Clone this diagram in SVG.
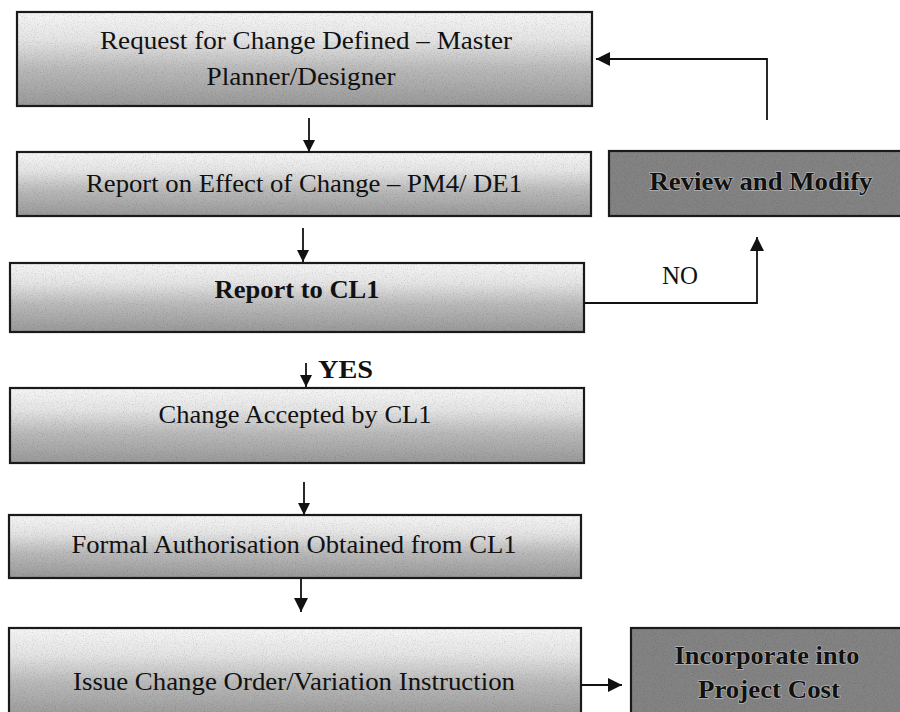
<svg xmlns="http://www.w3.org/2000/svg" width="900" height="712" viewBox="0 0 900 712">
<defs>
<linearGradient id="lightGrad" x1="0" y1="0" x2="0" y2="1">
<stop offset="0" stop-color="#f6f6f6"/>
<stop offset="0.3" stop-color="#e4e4e4"/>
<stop offset="0.6" stop-color="#bababa"/>
<stop offset="1" stop-color="#999999"/>
</linearGradient>
<filter id="grain" x="0" y="0" width="100%" height="100%">
<feTurbulence type="fractalNoise" baseFrequency="0.9" numOctaves="2" seed="4" result="n"/>
<feColorMatrix in="n" type="matrix" values="0 0 0 0 0  0 0 0 0 0  0 0 0 0 0  0 0 0 -1.6 0.85" result="spots"/>
<feComposite in="spots" in2="SourceGraphic" operator="in" result="clip"/>
<feComponentTransfer in="clip" result="soft"><feFuncA type="linear" slope="0.4"/></feComponentTransfer>
<feMerge><feMergeNode in="SourceGraphic"/><feMergeNode in="soft"/></feMerge>
</filter>
<marker id="head" viewBox="0 0 10 10" refX="10" refY="5" markerWidth="13" markerHeight="12" markerUnits="userSpaceOnUse" orient="auto">
<path d="M0,0 L10,5 L0,10 Z" fill="#111"/>
</marker>
<marker id="headBig" viewBox="0 0 10 10" refX="10" refY="5" markerWidth="15" markerHeight="14" markerUnits="userSpaceOnUse" orient="auto">
<path d="M0,0 L10,5 L0,10 Z" fill="#111"/>
</marker>
</defs>
<style>
.light{fill:url(#lightGrad);filter:url(#grain)}
.dark{fill:#838383;filter:url(#grain)}
.edge{fill:none;stroke:#1a1a1a;stroke-width:2.2}
.t{font-family:"Liberation Serif","Times New Roman",serif;font-size:26px;fill:#111;text-anchor:middle}
.b{font-weight:bold}
.halo{paint-order:stroke;stroke:#d8d8d8;stroke-width:1.5;stroke-opacity:0.6}
.conn{fill:none;stroke:#111;stroke-width:1.8}
</style>
<rect width="900" height="712" fill="#ffffff"/>

<g id="n1">
<rect class="light" x="17" y="12" width="575" height="94"/>
<rect class="edge" x="17" y="12" width="575" height="94"/>
<text class="t" x="306" y="49" textLength="412" lengthAdjust="spacingAndGlyphs">Request for Change Defined – Master</text>
<text class="t" x="301" y="85" textLength="189" lengthAdjust="spacingAndGlyphs">Planner/Designer</text>
</g>

<g id="n2">
<rect class="light" x="17" y="152" width="574" height="64"/>
<rect class="edge" x="17" y="152" width="574" height="64"/>
<text class="t" x="304" y="192" textLength="436" lengthAdjust="spacingAndGlyphs">Report on Effect of Change – PM4/ DE1</text>
</g>

<g id="n3">
<rect class="light" x="10" y="263" width="574" height="69"/>
<rect class="edge" x="10" y="263" width="574" height="69"/>
<text class="t b" x="297" y="298" textLength="165" lengthAdjust="spacingAndGlyphs">Report to CL1</text>
</g>

<g id="n4">
<rect class="light" x="10" y="388" width="574" height="75"/>
<rect class="edge" x="10" y="388" width="574" height="75"/>
<text class="t" x="295" y="423" textLength="273" lengthAdjust="spacingAndGlyphs">Change Accepted by CL1</text>
</g>

<g id="n5">
<rect class="light" x="9" y="515" width="572" height="63"/>
<rect class="edge" x="9" y="515" width="572" height="63"/>
<text class="t" x="294" y="553" textLength="445" lengthAdjust="spacingAndGlyphs">Formal Authorisation Obtained from CL1</text>
</g>

<g id="n6">
<rect class="light" x="9" y="628" width="572" height="90"/>
<rect class="edge" x="9" y="628" width="572" height="90"/>
<text class="t" x="294" y="690" textLength="442" lengthAdjust="spacingAndGlyphs">Issue Change Order/Variation Instruction</text>
</g>

<g id="review">
<rect class="dark" x="609" y="151" width="295" height="65"/>
<rect class="edge" x="609" y="151" width="295" height="65"/>
<text class="t b halo" x="761" y="190" textLength="223" lengthAdjust="spacingAndGlyphs">Review and Modify</text>
</g>

<g id="incorporate">
<rect class="dark" x="631" y="628" width="273" height="90"/>
<rect class="edge" x="631" y="628" width="273" height="90"/>
<text class="t b halo" x="767" y="664" textLength="185" lengthAdjust="spacingAndGlyphs">Incorporate into</text>
<text class="t b halo" x="769" y="698" textLength="142" lengthAdjust="spacingAndGlyphs">Project Cost</text>
</g>

<g id="connectors">
<line class="conn" x1="309" y1="118" x2="309" y2="152" marker-end="url(#head)"/>
<line class="conn" x1="303" y1="228" x2="303" y2="262" marker-end="url(#head)"/>
<line class="conn" x1="306" y1="363" x2="306" y2="387" marker-end="url(#head)"/>
<line class="conn" x1="304" y1="482" x2="304" y2="515" marker-end="url(#head)"/>
<line class="conn" x1="301" y1="579" x2="301" y2="612" marker-end="url(#headBig)"/>
<line class="conn" x1="581" y1="685" x2="622" y2="685" marker-end="url(#headBig)"/>
<polyline class="conn" points="584,303 757,303 757,237" marker-end="url(#headBig)"/>
<polyline class="conn" points="767,120 767,59 596,59" marker-end="url(#headBig)"/>
<text class="t" x="680" y="284" textLength="36" lengthAdjust="spacingAndGlyphs">NO</text>
<text class="t b" x="318" y="378" style="text-anchor:start" textLength="55" lengthAdjust="spacingAndGlyphs">YES</text>
</g>
</svg>
